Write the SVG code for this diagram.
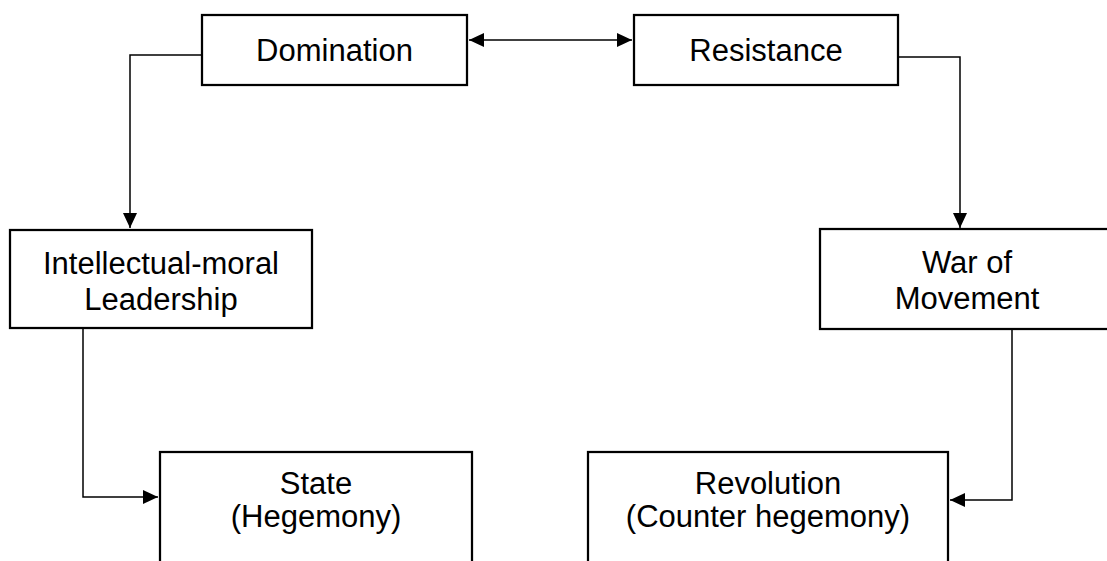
<svg xmlns="http://www.w3.org/2000/svg" width="1107" height="561" viewBox="0 0 1107 561">
  <style>
    .box { fill: #ffffff; stroke: #000000; stroke-width: 2.25; }
    .lbl { font-family: "Liberation Sans", Arial, sans-serif; font-size: 31px; fill: #000000; text-anchor: middle; }
    .conn { fill: none; stroke: #000000; stroke-width: 1.5; }
  </style>
  <defs>
    <marker id="arrow" viewBox="0 0 15 14" refX="15" refY="7" markerWidth="15" markerHeight="14" markerUnits="userSpaceOnUse" orient="auto-start-reverse">
      <path d="M0,0 L15,7 L0,14 Z" fill="#000000"/>
    </marker>
  </defs>
  <rect width="1107" height="561" fill="#ffffff"/>

  <g id="connectors">
    <line class="conn" x1="469" y1="40" x2="632" y2="40" marker-start="url(#arrow)" marker-end="url(#arrow)"/>
    <polyline class="conn" points="202,55 130,55 130,228" marker-end="url(#arrow)"/>
    <polyline class="conn" points="898,57 960,57 960,228" marker-end="url(#arrow)"/>
    <polyline class="conn" points="83,328 83,497 158,497" marker-end="url(#arrow)"/>
    <polyline class="conn" points="1012,329 1012,500 950,500" marker-end="url(#arrow)"/>
  </g>

  <g id="domination">
    <rect class="box" x="202" y="15" width="265" height="70"/>
    <text class="lbl" x="334.5" y="61">Domination</text>
  </g>
  <g id="resistance">
    <rect class="box" x="634" y="15" width="264" height="70"/>
    <text class="lbl" x="766" y="61">Resistance</text>
  </g>
  <g id="intellectual-moral-leadership">
    <rect class="box" x="10" y="230" width="302" height="98"/>
    <text class="lbl" x="161" y="274">Intellectual-moral</text>
    <text class="lbl" x="161" y="310">Leadership</text>
  </g>
  <g id="war-of-movement">
    <rect class="box" x="820" y="229" width="294" height="100"/>
    <text class="lbl" x="967" y="273">War of</text>
    <text class="lbl" x="967" y="309">Movement</text>
  </g>
  <g id="state">
    <rect class="box" x="160" y="452" width="312" height="130"/>
    <text class="lbl" x="316" y="494">State</text>
    <text class="lbl" x="316" y="527">(Hegemony)</text>
  </g>
  <g id="revolution">
    <rect class="box" x="588" y="452" width="360" height="130"/>
    <text class="lbl" x="768" y="494">Revolution</text>
    <text class="lbl" x="768" y="527">(Counter hegemony)</text>
  </g>
</svg>
